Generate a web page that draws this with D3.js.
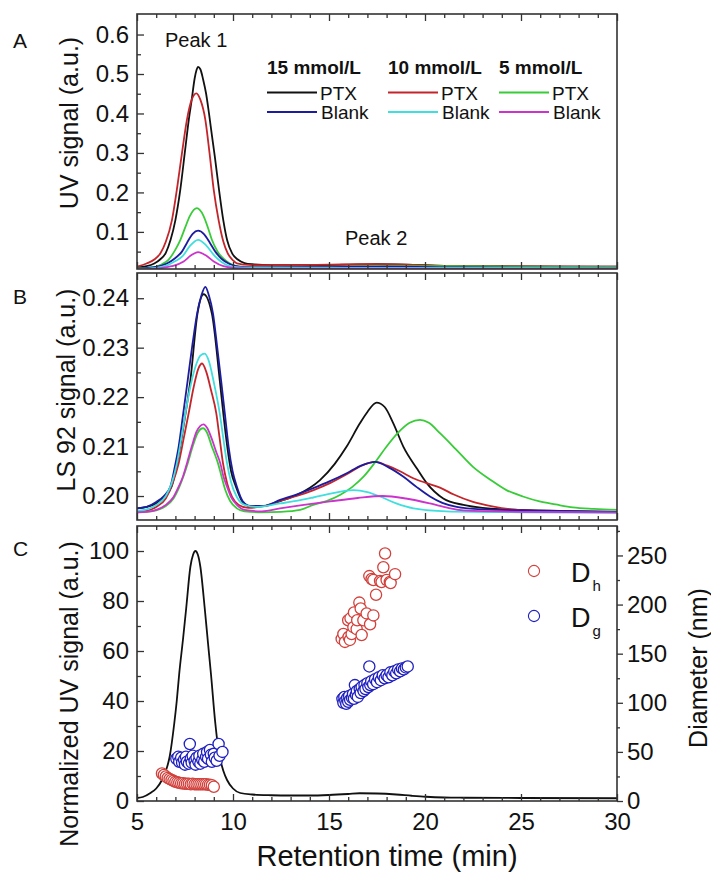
<!DOCTYPE html>
<html><head><meta charset="utf-8">
<script src="https://cdn.jsdelivr.net/npm/d3@7"></script>
<style>
body{margin:0;background:#fff}
text{font-family:"Liberation Sans",Arial,Helvetica,sans-serif;fill:#111}
</style>
</head><body>
<svg id="chart" width="711" height="875"></svg>
<script>
// ---------------- DATA ----------------
// Panel A: UV signal (a.u.) vs retention time (min)
const uvPTX15   = [[5,0.010],[5.5,0.013],[5.9,0.020],[6.2,0.030],[6.5,0.047],[6.75,0.080],[7,0.130],[7.25,0.205],[7.5,0.305],[7.7,0.385],[7.85,0.435],[8,0.488],[8.1,0.510],[8.18,0.518],[8.3,0.512],[8.45,0.485],[8.6,0.450],[8.75,0.400],[8.9,0.345],[9.05,0.292],[9.25,0.215],[9.5,0.128],[9.7,0.078],[9.95,0.046],[10.25,0.030],[10.6,0.021],[11,0.018],[12,0.016],[14,0.016],[16,0.017],[17.5,0.018],[19,0.017],[21,0.014],[24,0.013],[27,0.012],[30,0.012]];
const uvBlank15 = [[5,0.007],[5.8,0.010],[6.56,0.020],[7,0.034],[7.34,0.050],[7.6,0.072],[7.9,0.095],[8.18,0.103],[8.5,0.094],[8.8,0.072],[9.08,0.050],[9.4,0.032],[9.77,0.020],[10.3,0.012],[11,0.010],[15,0.011],[18,0.012],[22,0.010],[30,0.009]];
const uvPTX10   = [[5,0.012],[5.5,0.020],[5.9,0.030],[6.22,0.046],[6.5,0.075],[6.82,0.130],[7.1,0.215],[7.34,0.299],[7.6,0.384],[7.85,0.435],[8.09,0.451],[8.3,0.435],[8.56,0.384],[8.78,0.299],[9,0.205],[9.25,0.130],[9.5,0.075],[9.72,0.046],[10,0.028],[10.2,0.020],[10.6,0.017],[11,0.016],[13,0.016],[15,0.017],[17,0.018],[19,0.017],[21,0.014],[24,0.013],[30,0.012]];
const uvBlank10 = [[5,0.006],[6,0.009],[6.6,0.016],[7,0.026],[7.4,0.040],[7.75,0.064],[8.18,0.080],[8.6,0.066],[9.03,0.040],[9.4,0.024],[9.8,0.014],[10.4,0.010],[11,0.009],[15,0.009],[20,0.009],[30,0.008]];
const uvPTX5    = [[5,0.008],[5.8,0.010],[6.3,0.018],[6.65,0.030],[7,0.055],[7.26,0.080],[7.5,0.110],[7.75,0.140],[8.12,0.160],[8.45,0.142],[8.7,0.110],[8.9,0.080],[9.2,0.050],[9.55,0.030],[9.9,0.018],[10.4,0.012],[11,0.010],[15,0.011],[18,0.013],[21,0.013],[25,0.012],[30,0.011]];
const uvBlank5  = [[5,0.005],[6,0.007],[6.8,0.013],[7.43,0.025],[7.8,0.040],[8.18,0.049],[8.6,0.040],[9,0.025],[9.5,0.013],[10.2,0.008],[11,0.007],[20,0.007],[30,0.007]];

// Panel B: LS 92 signal (a.u.)
const lsPTX15   = [[5,0.1975],[5.5,0.1978],[6,0.1985],[6.4,0.1998],[6.8,0.2019],[7.25,0.2100],[7.5,0.2160],[7.78,0.2234],[8.15,0.2369],[8.47,0.2408],[8.9,0.2369],[9.31,0.2234],[9.5,0.2165],[9.7,0.2100],[9.9,0.2050],[10.15,0.2019],[10.5,0.1988],[10.9,0.1979],[11.5,0.1979],[12.62,0.1992],[13.32,0.2002],[14.53,0.2032],[15.3,0.2065],[15.92,0.2100],[16.61,0.2147],[17,0.2170],[17.48,0.2189],[17.9,0.2180],[18.35,0.2147],[18.87,0.2100],[19.57,0.2056],[20.09,0.2026],[20.95,0.1995],[22,0.1982],[23,0.1976],[25,0.1972],[27,0.1970],[30,0.1968]];
const lsBlank15 = [[5,0.1975],[5.5,0.1978],[6,0.1988],[6.4,0.2000],[6.74,0.2019],[7,0.2065],[7.17,0.2100],[7.4,0.2165],[7.64,0.2234],[7.9,0.2310],[8.13,0.2369],[8.35,0.2405],[8.56,0.2423],[8.75,0.2405],[8.96,0.2369],[9.18,0.2300],[9.38,0.2234],[9.58,0.2165],[9.77,0.2100],[9.98,0.2050],[10.2,0.2019],[10.5,0.1990],[10.9,0.1980],[11.6,0.1980],[12.45,0.1992],[13.3,0.2003],[14.18,0.2016],[15.05,0.2030],[15.92,0.2046],[16.7,0.2062],[17.4,0.2069],[18.1,0.2058],[18.88,0.2039],[19.57,0.2018],[20.26,0.1999],[20.9,0.1986],[21.65,0.1978],[23,0.1973],[25,0.1971],[30,0.1968]];
const lsPTX10   = [[5,0.1968],[5.5,0.1970],[6,0.1978],[6.5,0.1995],[6.85,0.2025],[7.17,0.2066],[7.45,0.2120],[7.69,0.2167],[7.95,0.2220],[8.2,0.2258],[8.39,0.2268],[8.6,0.2252],[8.85,0.2215],[9.13,0.2167],[9.3,0.2118],[9.48,0.2066],[9.7,0.2025],[9.95,0.1998],[10.3,0.1982],[10.8,0.1976],[11.6,0.1980],[12.45,0.1990],[13.32,0.2000],[14.2,0.2012],[15.05,0.2026],[15.92,0.2044],[16.8,0.2063],[17.4,0.2069],[18,0.2062],[18.7,0.2050],[19.39,0.2036],[20.09,0.2026],[20.78,0.2017],[21.5,0.2003],[22.5,0.1988],[23.5,0.1979],[24.5,0.1973],[26,0.1970],[30,0.1967]];
const lsBlank10 = [[5,0.1970],[5.5,0.1973],[6,0.1982],[6.5,0.2000],[6.8,0.2025],[7.08,0.2066],[7.3,0.2115],[7.52,0.2167],[7.8,0.2225],[8.1,0.2268],[8.3,0.2284],[8.52,0.2288],[8.75,0.2272],[9,0.2230],[9.31,0.2167],[9.5,0.2115],[9.69,0.2066],[9.9,0.2028],[10.2,0.1998],[10.6,0.1982],[11.2,0.1978],[12.45,0.1985],[13.3,0.1990],[14.18,0.1997],[15.2,0.2006],[16.27,0.2012],[17,0.2008],[17.66,0.1999],[18.5,0.1985],[19.4,0.1975],[21.1,0.1969],[25,0.1967],[30,0.1966]];
const lsPTX5    = [[5,0.1967],[5.5,0.1968],[6,0.1971],[6.5,0.1980],[6.9,0.1995],[7.2,0.2018],[7.42,0.2040],[7.64,0.2066],[7.9,0.2100],[8.15,0.2127],[8.44,0.2137],[8.65,0.2128],[8.9,0.2100],[9.05,0.2085],[9.22,0.2066],[9.4,0.2040],[9.6,0.2012],[9.85,0.1990],[10.2,0.1975],[10.6,0.1969],[11.5,0.1967],[12.5,0.1968],[13.5,0.1972],[14.18,0.1982],[14.9,0.1990],[15.57,0.2002],[16.2,0.2018],[16.8,0.2039],[17.4,0.2068],[18,0.2100],[18.6,0.2128],[19.2,0.2148],[19.74,0.2154],[20.2,0.2148],[20.78,0.2127],[21.6,0.2095],[22.5,0.2059],[23.4,0.2033],[24.24,0.2012],[25.1,0.1999],[25.97,0.1989],[26.8,0.1983],[27.7,0.1977],[28.8,0.1974],[30,0.1972]];
const lsBlank5  = [[5,0.1967],[5.5,0.1968],[6,0.1972],[6.5,0.1982],[6.9,0.1998],[7.17,0.2019],[7.4,0.2040],[7.6,0.2066],[7.85,0.2100],[8.1,0.2130],[8.3,0.2142],[8.47,0.2145],[8.65,0.2138],[8.9,0.2115],[9.1,0.2092],[9.34,0.2066],[9.5,0.2040],[9.69,0.2019],[9.9,0.1998],[10.2,0.1982],[10.6,0.1972],[11.5,0.1969],[12.45,0.1975],[13.5,0.1981],[15.05,0.1989],[16.5,0.1996],[17.8,0.2000],[19,0.1995],[20.26,0.1985],[21.2,0.1976],[22,0.1971],[25,0.1968],[30,0.1967]];

// Panel C: normalized UV signal and diameters
const normUV = [[5,1.2],[5.3,1.6],[5.7,3.2],[6,5],[6.3,8.4],[6.5,12],[6.7,17.7],[6.94,31],[7.07,40],[7.2,51],[7.4,65],[7.57,77.7],[7.78,93.7],[7.92,98.5],[8.04,100],[8.17,98.5],[8.3,93.7],[8.52,77.7],[8.7,63],[8.85,51],[9.08,31],[9.2,23],[9.31,17.7],[9.5,12],[9.69,8.4],[10,5],[10.38,3.2],[11,2.6],[12,2.3],[13,2.2],[14,2.2],[15,2.4],[16,2.8],[16.6,3.1],[17.5,3],[18.5,2.6],[19.3,2.1],[20.05,1.7],[21,1.4],[22,1.3],[25,1.2],[30,1.1]];
const dhPeak1 = [[6.3,28],[6.4,26.5],[6.5,25],[6.6,23.5],[6.7,22.5],[6.8,21.5],[6.9,20.5],[7.0,19.5],[7.1,19],[7.2,18.5],[7.3,18],[7.4,18],[7.5,17.5],[7.6,17.5],[7.7,17.5],[7.8,17],[7.9,17.5],[8.0,17],[8.1,17],[8.2,17],[8.3,17],[8.4,17],[8.5,17],[8.6,17],[8.7,16.5],[8.8,16.5],[8.9,16],[9.0,14.5]];
const dgPeak1 = [[7.05,43],[7.15,45],[7.2,40],[7.3,44],[7.35,39],[7.45,42],[7.5,37],[7.55,45],[7.6,40],[7.7,38],[7.75,58],[7.8,43],[7.85,39],[7.9,46],[8.0,41],[8.05,37],[8.1,44],[8.2,40],[8.25,46],[8.3,38],[8.4,42],[8.45,48],[8.5,40],[8.6,45],[8.65,50],[8.7,43],[8.8,52],[8.85,47],[8.9,40],[9.0,48],[9.05,44],[9.15,41],[9.25,58],[9.3,46],[9.45,50]];
const dhPeak2 = [[15.66,165],[15.75,170],[15.83,162],[16.0,184],[16.02,167],[16.09,164],[16.12,186],[16.18,170],[16.27,177],[16.3,192],[16.44,175],[16.47,184],[16.58,202],[16.65,196],[16.7,169],[16.79,184],[16.96,191],[17.1,229],[17.14,180],[17.22,226],[17.31,189],[17.31,225],[17.45,210],[17.66,224],[17.74,223],[17.83,238],[17.92,252],[18.0,225],[18.17,223],[18.21,222],[18.44,231]];
const dgPeak2 = [[15.7,104],[15.75,100],[15.8,106],[15.85,102],[15.9,99],[15.95,105],[16.0,101],[16.05,107],[16.1,103],[16.2,105],[16.25,109],[16.3,104],[16.35,118],[16.4,108],[16.45,112],[16.5,106],[16.6,114],[16.65,110],[16.7,116],[16.8,112],[16.85,118],[16.9,114],[17.0,120],[17.05,116],[17.1,137],[17.15,118],[17.2,122],[17.3,119],[17.4,124],[17.5,121],[17.6,126],[17.7,123],[17.8,128],[17.9,125],[18.0,128],[18.1,126],[18.2,131],[18.3,128],[18.4,132],[18.5,130],[18.6,134],[18.7,132],[18.8,135],[18.9,134],[19.0,136],[19.1,137]];

// Ticks
const xMajor = [5,10,15,20,25,30];
const xMinor = [6,7,8,9,11,12,13,14,16,17,18,19,21,22,23,24,26,27,28,29];
const yAMajor = [0.1,0.2,0.3,0.4,0.5,0.6];
const yAMinor = [0.05,0.15,0.25,0.35,0.45,0.55];
const yBMajor = [0.20,0.21,0.22,0.23,0.24];
const yBMinor = [0.205,0.215,0.225,0.235];
const yCMajor = [0,20,40,60,80,100];
const yCMinor = [10,30,50,70,90];
const yDMajor = [0,50,100,150,200,250];
const yDMinor = [25,75,125,175,225,275];

// Legend
const concLabels = ["15 mmol/L","10 mmol/L","5 mmol/L"];
const colors = {PTX15:"#111111",Blank15:"#1c1ca0",PTX10:"#c4252b",Blank10:"#40dede",PTX5:"#38cc38",Blank5:"#cc33cc"};

// ---------------- DRAW ----------------
const svg = d3.select("#chart");
const L = 137, R = 617;
const P = {A:[14,269], B:[273,520], C:[526,801]};
const x = d3.scaleLinear().domain([5,30]).range([L,R]);
const yA = d3.scaleLinear().domain([0.006,0.652]).range([P.A[1],P.A[0]]);
const yB = d3.scaleLinear().domain([0.19515,0.2451]).range([P.B[1],P.B[0]]);
const yC = d3.scaleLinear().domain([0,110]).range([P.C[1],P.C[0]]);
const yD = d3.scaleLinear().domain([0,280]).range([P.C[1],P.C[0]]);

const defs = svg.append("defs");
Object.entries(P).forEach(([k,[t,b]])=>{
  defs.append("clipPath").attr("id","clip"+k).append("rect").attr("x",L).attr("y",t).attr("width",R-L).attr("height",b-t);
});

function styleAxis(g){
  g.select(".domain").remove();
  g.selectAll(".tick line").attr("stroke","#333").attr("stroke-width",1.3);
  g.selectAll(".tick text").style("font-size","24px").style("font-family",'"Liberation Sans",Arial,sans-serif').attr("fill","#111");
}
function frameAxes(key, yScale, yMaj, yMin, fmt, showX){
  const [t,b] = P[key];
  svg.append("g").attr("transform",`translate(0,${b})`).call(d3.axisBottom(x).tickValues(xMajor).tickSize(-7).tickPadding(12).tickFormat(showX?d3.format("d"):"")).call(styleAxis);
  svg.append("g").attr("transform",`translate(0,${b})`).call(d3.axisBottom(x).tickValues(xMinor).tickSize(-4).tickFormat("")).call(styleAxis);
  svg.append("g").attr("transform",`translate(0,${t})`).call(d3.axisTop(x).tickValues(xMajor).tickSize(-7).tickFormat("")).call(styleAxis);
  svg.append("g").attr("transform",`translate(0,${t})`).call(d3.axisTop(x).tickValues(xMinor).tickSize(-4).tickFormat("")).call(styleAxis);
  svg.append("g").attr("transform",`translate(${L},0)`).call(d3.axisLeft(yScale).tickValues(yMaj).tickSize(-7).tickPadding(8).tickFormat(fmt)).call(styleAxis);
  svg.append("g").attr("transform",`translate(${L},0)`).call(d3.axisLeft(yScale).tickValues(yMin).tickSize(-4).tickFormat("")).call(styleAxis);
}

const line = (ys)=>d3.line().x(d=>x(d[0])).y(d=>ys(d[1])).curve(d3.curveMonotoneX);
function drawLines(key, ys, series){
  const g = svg.append("g").attr("clip-path",`url(#clip${key})`);
  series.forEach(([data,col])=>{
    g.append("path").datum(data).attr("d",line(ys)).attr("fill","none").attr("stroke",col).attr("stroke-width",1.8).attr("stroke-linejoin","round");
  });
}

// Panel A
drawLines("A", yA, [[uvPTX15,colors.PTX15],[uvPTX10,colors.PTX10],[uvPTX5,colors.PTX5],[uvBlank15,colors.Blank15],[uvBlank10,colors.Blank10],[uvBlank5,colors.Blank5]]);
// Panel B
drawLines("B", yB, [[lsPTX15,colors.PTX15],[lsPTX10,colors.PTX10],[lsPTX5,colors.PTX5],[lsBlank15,colors.Blank15],[lsBlank10,colors.Blank10],[lsBlank5,colors.Blank5]]);
// Panel C
drawLines("C", yC, [[normUV,"#111"]]);

const scat = svg.append("g").attr("clip-path","url(#clipC)");
function drawPts(data,col){
  scat.selectAll(null).data(data).enter().append("circle")
    .attr("cx",d=>x(d[0])).attr("cy",d=>yD(d[1])).attr("r",5.6)
    .attr("fill","#fff").attr("stroke",col).attr("stroke-width",1.3);
}
drawPts(dhPeak1,"#d2413c");
drawPts(dhPeak2,"#d2413c");
drawPts(dgPeak1,"#2020c0");
drawPts(dgPeak2,"#2020c0");

// Frames
Object.values(P).forEach(([t,b])=>{
  svg.append("rect").attr("x",L).attr("y",t).attr("width",R-L).attr("height",b-t).attr("fill","none").attr("stroke","#333").attr("stroke-width",1.6);
});

frameAxes("A", yA, yAMajor, yAMinor, d3.format(".1f"), false);
frameAxes("B", yB, yBMajor, yBMinor, d3.format(".2f"), false);
frameAxes("C", yC, yCMajor, yCMinor, d3.format("d"), true);
// Right axis for diameter
svg.append("g").attr("transform",`translate(${R},0)`).call(d3.axisRight(yD).tickValues(yDMajor).tickSize(6).tickPadding(4).tickFormat(d3.format("d"))).call(styleAxis);
svg.append("g").attr("transform",`translate(${R},0)`).call(d3.axisRight(yD).tickValues(yDMinor).tickSize(3).tickFormat("")).call(styleAxis);

// Axis titles
function vtitle(txt, cx, cy, size){
  svg.append("text").attr("transform",`translate(${cx},${cy}) rotate(-90)`).attr("text-anchor","middle").attr("dominant-baseline","central").style("font-size",size+"px").text(txt);
}
vtitle("UV signal (a.u.)", 69, 123, 25);
vtitle("LS 92 signal (a.u.)", 66, 390, 25);
vtitle("Normalized UV signal (a.u.)", 69, 694, 25);
vtitle("Diameter (nm)", 698, 668, 25);
svg.append("text").attr("x",387).attr("y",866).attr("text-anchor","middle").style("font-size","29px").text("Retention time (min)");

// Panel letters
[["A",42+6],["B",298+6],["C",550+6]].forEach(([t,y])=>{
  svg.append("text").attr("x",13).attr("y",y).style("font-size","21px").text(t);
});

// Peak labels
svg.append("text").attr("x",165).attr("y",47).style("font-size","20px").text("Peak 1");
svg.append("text").attr("x",345).attr("y",245).style("font-size","20px").text("Peak 2");

// Legend A
const legX = [267,388,499];
const rows = [["PTX15","Blank15"],["PTX10","Blank10"],["PTX5","Blank5"]];
legX.forEach((lx,i)=>{
  svg.append("text").attr("x",lx).attr("y",74).style("font-size","19px").style("font-weight","bold").text(concLabels[i]);
  rows[i].forEach((key,j)=>{
    const yy = j===0?92.5:112;
    svg.append("line").attr("x1",lx).attr("x2",lx+50).attr("y1",yy).attr("y2",yy).attr("stroke",colors[key]).attr("stroke-width",1.8);
    svg.append("text").attr("x",lx+53+(j?1:0)).attr("y",yy+7).style("font-size","19px").text(j===0?"PTX":"Blank");
  });
});

// Legend C
const legC = [["#d2413c","h",571],["#2020c0","g",616]];
legC.forEach(([col,sub,cy])=>{
  svg.append("circle").attr("cx",534).attr("cy",cy).attr("r",5.6).attr("fill","#fff").attr("stroke",col).attr("stroke-width",1.1);
  const t = svg.append("text").attr("x",571).attr("y",cy+11).style("font-size","27px");
  t.append("tspan").text("D");
  t.append("tspan").attr("dx",2).attr("dy",9).style("font-size","15px").text(sub);
});
</script>
</body></html>
